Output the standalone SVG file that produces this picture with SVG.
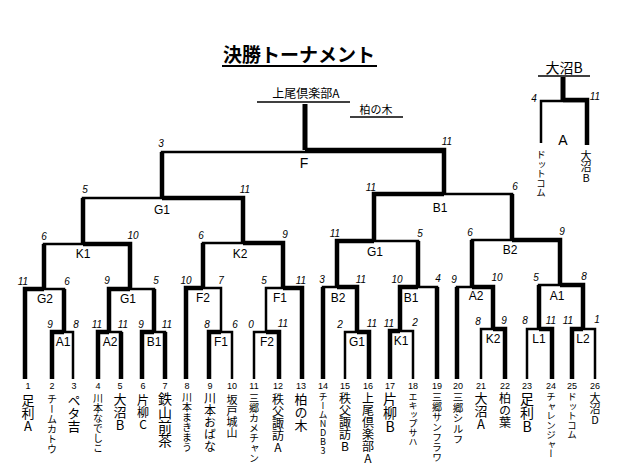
<svg xmlns="http://www.w3.org/2000/svg" width="640" height="474" viewBox="0 0 640 474">
<style>
.bg{fill:#fff}
.t{stroke:#000;stroke-width:2.5;fill:none;stroke-linejoin:miter}
.k{stroke:#000;stroke-width:4.5;fill:none;stroke-linejoin:miter}
.sc{font-family:"Liberation Sans",sans-serif;font-style:italic;font-size:10px;text-anchor:middle;fill:#000}
.lb{font-family:"Liberation Sans",sans-serif;font-size:12px;text-anchor:middle;fill:#000}
.no{font-family:"Liberation Sans",sans-serif;font-size:9px;text-anchor:middle;fill:#000}
.nm{font-family:"Noto Sans CJK JP",sans-serif;writing-mode:vertical-rl;text-orientation:upright;fill:#000}
.jp{font-family:"Noto Sans CJK JP",sans-serif;fill:#000;text-anchor:middle}
.ul{stroke:#000;stroke-width:1.5}
</style>
<rect class="bg" x="0" y="0" width="640" height="474"/>

<g id="title">
<text class="jp" x="299" y="62" style="font-size:19px;font-weight:bold">決勝トーナメント</text>
<line class="ul" x1="222" y1="66" x2="377" y2="66" style="stroke-width:2"/>
</g>
<g id="champion">
<text class="jp" x="306" y="98" style="font-size:12px">上尾倶楽部A</text>
<line class="ul" x1="257" y1="102" x2="350" y2="102"/>
</g>
<g id="runner-up">
<text class="jp" x="376" y="114" style="font-size:11px">柏の木</text>
<line class="ul" x1="350" y1="117" x2="403" y2="117"/>
</g>

<g id="connectors">
<!-- bottom matches -->
<path class="t" d="M52 379V332H73V379"/><path class="k" d="M52 379V332H64"/>
<path class="t" d="M98 379V332H121V379"/><path class="k" d="M98 379V332H109"/><path class="k" d="M121 379V332"/>
<path class="t" d="M142 379V332H165V379"/><path class="k" d="M142 379V332H154"/><path class="k" d="M165 379V332"/>
<path class="t" d="M209 379V332H232V379"/><path class="k" d="M209 379V332H221"/>
<path class="t" d="M254 379V332H279V379"/><path class="k" d="M279 379V332H266"/>
<path class="t" d="M345 379V332H369V379"/><path class="k" d="M369 379V332H357"/>
<path class="t" d="M390 379V331H413V379"/><path class="k" d="M390 379V331H400"/>
<path class="t" d="M481 379V329H505V379"/><path class="k" d="M505 379V329H493"/>
<path class="t" d="M527 379V329H552V379"/><path class="k" d="M552 379V329H539"/>
<path class="t" d="M572 379V329H595V379"/><path class="k" d="M572 379V329H583"/>
<!-- level 2 -->
<path class="t" d="M25 379V289H64V332"/><path class="k" d="M25 379V289H44"/><path class="k" d="M64 332V289"/>
<path class="t" d="M109 332V289H154V332"/><path class="k" d="M109 332V289H130"/><path class="k" d="M154 332V289"/>
<path class="t" d="M186 379V288H221V332"/><path class="k" d="M186 379V288H203"/>
<path class="t" d="M266 332V288H302V379"/><path class="k" d="M302 379V288H283"/>
<path class="t" d="M323 379V287H357V332"/><path class="k" d="M357 332V287H337"/><path class="k" d="M323 379V287"/>
<path class="t" d="M400 331V287H437V379"/><path class="k" d="M400 331V287H418"/><path class="k" d="M437 379V287"/>
<path class="t" d="M457 379V287H493V329"/><path class="k" d="M493 329V287H472"/><path class="k" d="M457 379V287"/>
<path class="t" d="M539 329V285H583V329"/><path class="k" d="M583 329V285H560"/><path class="k" d="M539 329V285"/>
<!-- level 3 -->
<path class="t" d="M44 289V244H130V289"/><path class="k" d="M130 289V244H83"/><path class="k" d="M44 289V244"/>
<path class="t" d="M203 288V243H283V288"/><path class="k" d="M283 288V243H243"/><path class="k" d="M203 288V243"/>
<path class="t" d="M337 287V241H418V287"/><path class="k" d="M337 287V241H374"/><path class="k" d="M418 287V241"/>
<path class="t" d="M472 287V240H560V285"/><path class="k" d="M560 285V240H512"/><path class="k" d="M472 287V240"/>
<!-- level 4 -->
<path class="t" d="M83 244V198H243V243"/><path class="k" d="M243 243V198H162"/><path class="k" d="M83 244V198"/>
<path class="t" d="M374 241V194H512V240"/><path class="k" d="M374 241V194H444"/><path class="k" d="M512 240V194"/>
<!-- final -->
<path class="t" d="M162 198V152H444V194"/><path class="k" d="M444 194V150H305"/><path class="k" d="M162 198V152"/>
<path class="k" d="M305 150V104" style="stroke-width:5"/>
</g>

<g id="match-final">
<text class="sc" x="161" y="147">3</text><text class="sc" x="447" y="145">11</text>
<text class="lb" x="304" y="168" style="font-size:14px">F</text>
</g>
<g id="match-G1-top">
<text class="sc" x="85" y="193">5</text><text class="sc" x="245" y="193">11</text>
<text class="lb" x="162" y="214">G1</text>
</g>
<g id="match-B1-top">
<text class="sc" x="371" y="191">11</text><text class="sc" x="515" y="190">6</text>
<text class="lb" x="440" y="212">B1</text>
</g>
<g id="match-K1">
<text class="sc" x="44" y="240">6</text><text class="sc" x="133" y="239">10</text>
<text class="lb" x="83" y="258">K1</text>
</g>
<g id="match-K2">
<text class="sc" x="201" y="239">6</text><text class="sc" x="285" y="238">9</text>
<text class="lb" x="240" y="258">K2</text>
</g>
<g id="match-G1-right">
<text class="sc" x="335" y="237">11</text><text class="sc" x="420" y="237">5</text>
<text class="lb" x="375" y="256">G1</text>
</g>
<g id="match-B2-right">
<text class="sc" x="470" y="236">6</text><text class="sc" x="562" y="235">9</text>
<text class="lb" x="510" y="254">B2</text>
</g>
<g id="match-G2">
<text class="sc" x="23" y="285">11</text><text class="sc" x="67" y="285">6</text>
<text class="lb" x="45" y="303">G2</text>
</g>
<g id="match-G1-left">
<text class="sc" x="107" y="284">9</text><text class="sc" x="156" y="284">5</text>
<text class="lb" x="128" y="303">G1</text>
</g>
<g id="match-F2-mid">
<text class="sc" x="186" y="284">10</text><text class="sc" x="221" y="284">7</text>
<text class="lb" x="203" y="302">F2</text>
</g>
<g id="match-F1-mid">
<text class="sc" x="264" y="284">5</text><text class="sc" x="301" y="284">11</text>
<text class="lb" x="280" y="302">F1</text>
</g>
<g id="match-B2-mid">
<text class="sc" x="322" y="283">3</text><text class="sc" x="361" y="283">11</text>
<text class="lb" x="338" y="302">B2</text>
</g>
<g id="match-B1-mid">
<text class="sc" x="397" y="283">10</text><text class="sc" x="438" y="282">4</text>
<text class="lb" x="411" y="302">B1</text>
</g>
<g id="match-A2-mid">
<text class="sc" x="454" y="283">9</text><text class="sc" x="497" y="281">10</text>
<text class="lb" x="476" y="300">A2</text>
</g>
<g id="match-A1-mid">
<text class="sc" x="536" y="281">5</text><text class="sc" x="584" y="280">8</text>
<text class="lb" x="557" y="300">A1</text>
</g>
<g id="match-A1-low">
<text class="sc" x="50" y="328">9</text><text class="sc" x="76" y="328">8</text>
<text class="lb" x="63" y="346">A1</text>
</g>
<g id="match-A2-low">
<text class="sc" x="97" y="328">11</text><text class="sc" x="123" y="328">11</text>
<text class="lb" x="110" y="346">A2</text>
</g>
<g id="match-B1-low">
<text class="sc" x="141" y="328">9</text><text class="sc" x="167" y="328">11</text>
<text class="lb" x="154" y="346">B1</text>
</g>
<g id="match-F1-low">
<text class="sc" x="207" y="328">8</text><text class="sc" x="235" y="328">6</text>
<text class="lb" x="221" y="346">F1</text>
</g>
<g id="match-F2-low">
<text class="sc" x="251" y="328">0</text><text class="sc" x="283" y="327">11</text>
<text class="lb" x="267" y="346">F2</text>
</g>
<g id="match-G1-low">
<text class="sc" x="340" y="328">2</text><text class="sc" x="372" y="327">11</text>
<text class="lb" x="357" y="346">G1</text>
</g>
<g id="match-K1-low">
<text class="sc" x="389" y="327">11</text><text class="sc" x="415" y="326">2</text>
<text class="lb" x="401" y="345">K1</text>
</g>
<g id="match-K2-low">
<text class="sc" x="478" y="325">8</text><text class="sc" x="504" y="324">9</text>
<text class="lb" x="493" y="343">K2</text>
</g>
<g id="match-L1">
<text class="sc" x="525" y="324">8</text><text class="sc" x="551" y="324">11</text>
<text class="lb" x="539" y="343">L1</text>
</g>
<g id="match-L2">
<text class="sc" x="568" y="324">11</text><text class="sc" x="597" y="323">1</text>
<text class="lb" x="583" y="343">L2</text>
</g>

<g id="team-1"><text class="no" x="28" y="389">1</text><text class="nm" x="28" y="394" style="font-size:13px">足利A</text></g>
<g id="team-2"><text class="no" x="52" y="389">2</text><text class="nm" x="52" y="394" style="font-size:10px">チームカトウ</text></g>
<g id="team-3"><text class="no" x="74" y="389">3</text><text class="nm" x="74" y="394" style="font-size:13px">ペタ吉</text></g>
<g id="team-4"><text class="no" x="98" y="389">4</text><text class="nm" x="98" y="393" style="font-size:10px">川本なでしこ</text></g>
<g id="team-5"><text class="no" x="120" y="389">5</text><text class="nm" x="120" y="393" style="font-size:13px">大沼B</text></g>
<g id="team-6"><text class="no" x="143" y="389">6</text><text class="nm" x="143" y="394" style="font-size:12px">片柳C</text></g>
<g id="team-7"><text class="no" x="165" y="389">7</text><text class="nm" x="165" y="392" style="font-size:14px">鉄山前茶</text></g>
<g id="team-8"><text class="no" x="187" y="389">8</text><text class="nm" x="187" y="392" style="font-size:10px">川本まきまう</text></g>
<g id="team-9"><text class="no" x="210" y="389">9</text><text class="nm" x="210" y="392" style="font-size:12px">川本おばな</text></g>
<g id="team-10"><text class="no" x="232" y="389">10</text><text class="nm" x="232" y="394" style="font-size:11px">坂戸城山</text></g>
<g id="team-11"><text class="no" x="254" y="389">11</text><text class="nm" x="254" y="393" style="font-size:10px">三郷カメチャン</text></g>
<g id="team-12"><text class="no" x="278" y="389">12</text><text class="nm" x="278" y="393" style="font-size:12px">秩父諏訪A</text></g>
<g id="team-13"><text class="no" x="301" y="389">13</text><text class="nm" x="301" y="393" style="font-size:13px">柏の木</text></g>
<g id="team-14"><text class="no" x="323" y="389">14</text><text class="nm" x="323" y="392" style="font-size:9px">チームNDB3</text></g>
<g id="team-15"><text class="no" x="345" y="389">15</text><text class="nm" x="345" y="392" style="font-size:12px">秩父諏訪B</text></g>
<g id="team-16"><text class="no" x="368" y="389">16</text><text class="nm" x="368" y="392" style="font-size:12px">上尾倶楽部A</text></g>
<g id="team-17"><text class="no" x="390" y="389">17</text><text class="nm" x="390" y="392" style="font-size:14px">片柳B</text></g>
<g id="team-18"><text class="no" x="413" y="389">18</text><text class="nm" x="413" y="392" style="font-size:9px">エキップサハ</text></g>
<g id="team-19"><text class="no" x="437" y="389">19</text><text class="nm" x="437" y="392" style="font-size:10px">三郷サンフラワ</text></g>
<g id="team-20"><text class="no" x="458" y="389">20</text><text class="nm" x="458" y="392" style="font-size:10.5px">三郷シルフ</text></g>
<g id="team-21"><text class="no" x="481" y="389">21</text><text class="nm" x="481" y="392" style="font-size:13px">大沼A</text></g>
<g id="team-22"><text class="no" x="505" y="389">22</text><text class="nm" x="505" y="392" style="font-size:12px">柏の葉</text></g>
<g id="team-23"><text class="no" x="527" y="389">23</text><text class="nm" x="527" y="392" style="font-size:14px">足利B</text></g>
<g id="team-24"><text class="no" x="551" y="389">24</text><text class="nm" x="551" y="392" style="font-size:9.5px">チャレンジャー</text></g>
<g id="team-25"><text class="no" x="572" y="389">25</text><text class="nm" x="572" y="392" style="font-size:9.5px">ドットコム</text></g>
<g id="team-26"><text class="no" x="595" y="389">26</text><text class="nm" x="595" y="392" style="font-size:11px">大沼D</text></g>

<g id="inset">
<text class="jp" x="564" y="73" style="font-size:14px">大沼B</text>
<line class="ul" x1="538" y1="76" x2="590" y2="76"/>
<path class="k" d="M563 77V101" style="stroke-width:5"/>
<path class="t" d="M541 143V101H587"/>
<path class="k" d="M587 145V100H563"/>
<text class="sc" x="534" y="102">4</text><text class="sc" x="595" y="100">11</text>
<text class="lb" x="563" y="145" style="font-size:14px">A</text>
<text class="nm" x="541" y="150" style="font-size:9.5px">ドットコム</text>
<text class="nm" x="586" y="150" style="font-size:11px">大沼B</text>
</g>
</svg>
